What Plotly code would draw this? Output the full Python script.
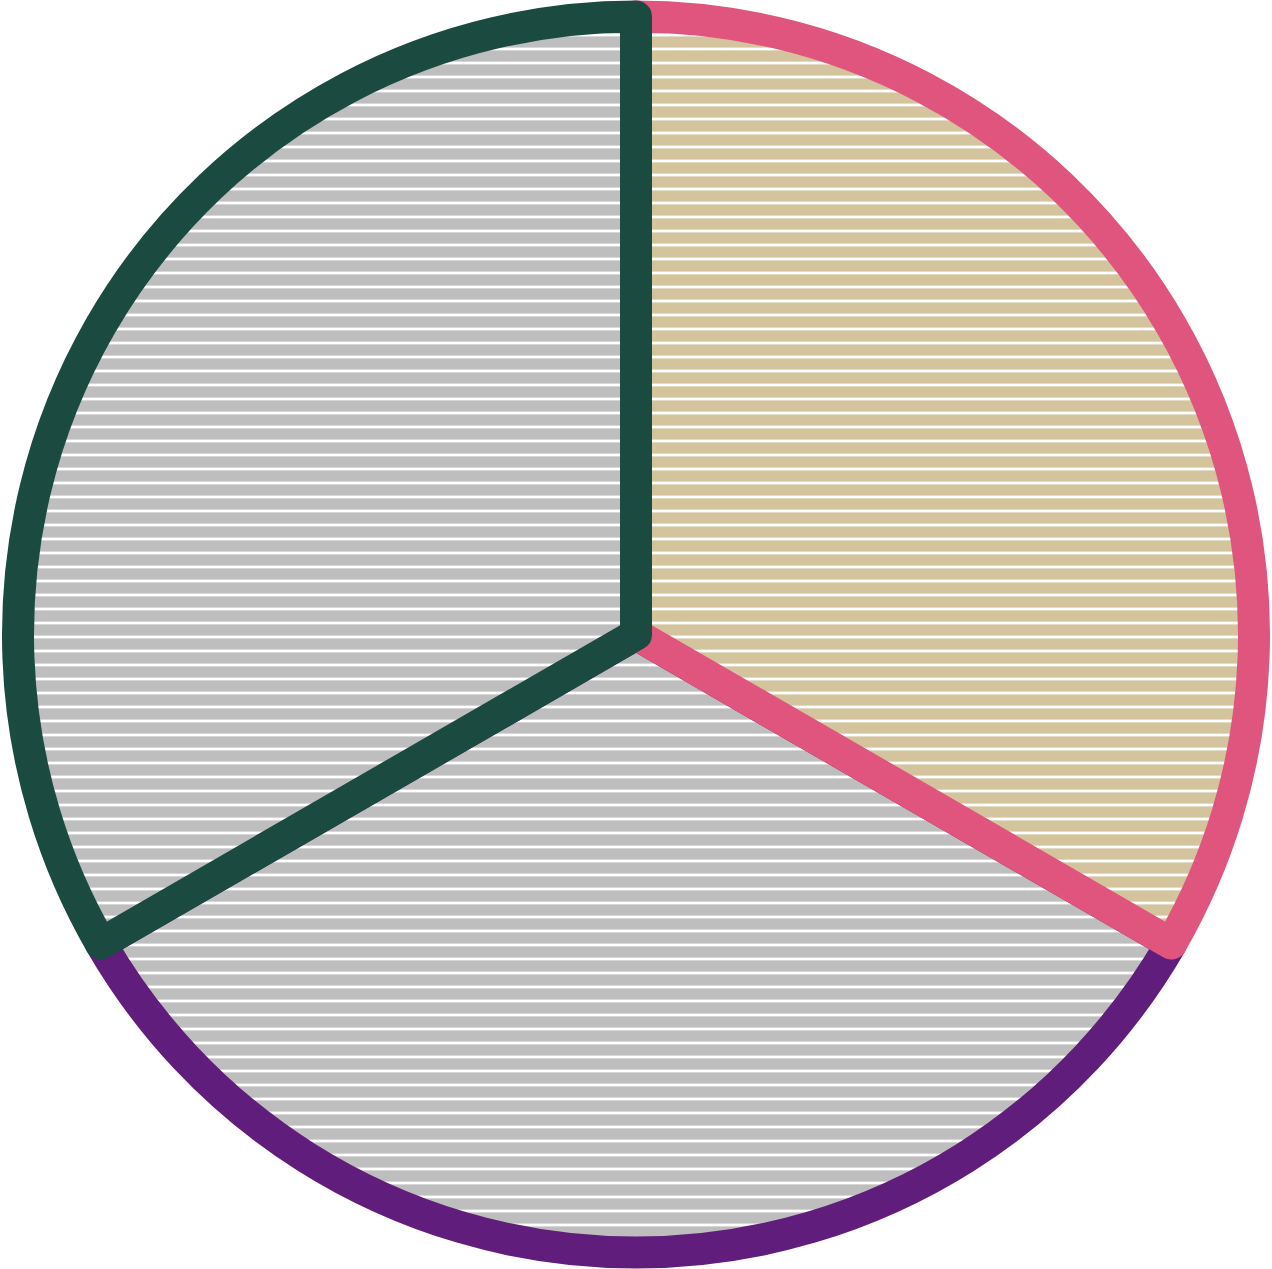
import plotly.graph_objects as go

labels = ["B", "A", "C"]
values = [1, 1, 1]
fill_colors = ["#BEBEBE", "#D3C49D", "#BEBEBE"]
line_colors = ["#611D7B", "#E0557D", "#1B4A40"]

fig = go.Figure(go.Pie(
    labels=labels,
    values=values,
    sort=False,
    direction="counterclockwise",
    rotation=120,
    textinfo="none",
    hoverinfo="skip",
    showlegend=False,
    marker=dict(
        colors=fill_colors,
        line=dict(color=line_colors, width=32),
        pattern=dict(shape="-", fgcolor="white", bgcolor=fill_colors,
                     fgopacity=1, size=14, solidity=0.2, fillmode="replace"),
    ),
))
fig.update_layout(
    width=1272, height=1269,
    margin=dict(l=18, r=18, t=16, b=16),
    paper_bgcolor="white", plot_bgcolor="white",
)
fig.write_html("out.html")
